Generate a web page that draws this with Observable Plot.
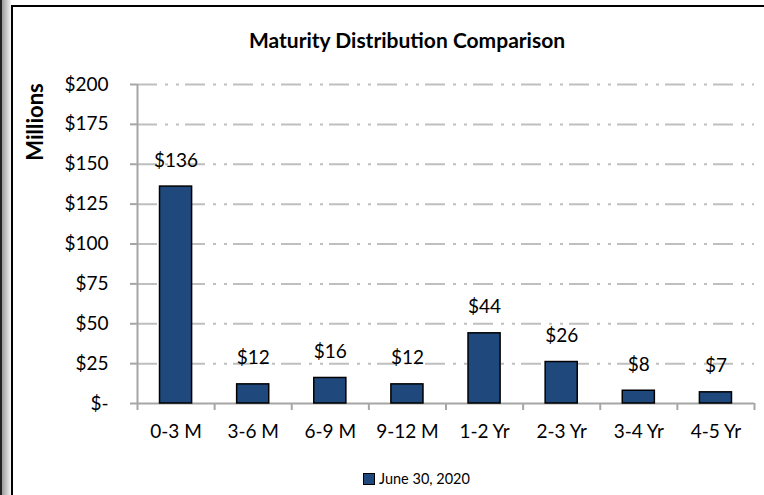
<!DOCTYPE html>
<html><head><meta charset="utf-8">
<script src="https://cdn.jsdelivr.net/npm/d3@7"></script>
<script src="https://cdn.jsdelivr.net/npm/@observablehq/plot@0.6"></script>
<style>
html,body{margin:0;padding:0;background:#fff;}
body{width:764px;height:495px;overflow:hidden;position:relative;font-family:Lato,"Open Sans",sans-serif;color:#000;}
#s1{position:absolute;left:0;top:0;width:2px;height:495px;background:#222;}
#s2{position:absolute;left:2px;top:0;width:9px;height:495px;background:linear-gradient(to right,#9a9a9a,#f4f4f4);}
#frame{position:absolute;left:11px;top:5px;width:753px;height:490px;border-left:2px solid #000;border-top:2px solid #000;box-sizing:border-box;}
#chart{position:absolute;left:0;top:0;}
#title{position:absolute;left:157px;width:500px;top:27px;text-align:center;font-weight:bold;font-size:21px;line-height:26px;white-space:nowrap;}
#ylabel{position:absolute;left:35px;top:122px;transform:translate(-50%,-50%) rotate(-90deg);font-weight:bold;font-size:22px;line-height:24px;white-space:nowrap;}
#legend{position:absolute;left:363px;top:469px;font-size:14.5px;line-height:20px;display:flex;align-items:center;white-space:nowrap;}
#legend .sw{display:inline-block;width:10px;height:10px;border:1px solid #000;margin-right:4px;}
</style></head><body>
<div id="s1"></div><div id="s2"></div><div id="frame"></div>
<div id="chart"></div>
<div id="title"></div>
<div id="ylabel"></div>
<div id="legend"><span class="sw"></span><span id="legtext"></span></div>
<script>
const categories = ["0-3 M","3-6 M","6-9 M","9-12 M","1-2 Yr","2-3 Yr","3-4 Yr","4-5 Yr"];
const values = [136,12,16,12,44,26,8,7];
const yTicks = [0,25,50,75,100,125,150,175,200];
const seriesName = "June 30, 2020";
const chartTitle = "Maturity Distribution Comparison";
const yLabel = "Millions";
const barColor = "#1f497d";

document.getElementById("title").textContent = chartTitle;
document.getElementById("ylabel").textContent = yLabel;
document.getElementById("legtext").textContent = seriesName;
document.querySelector("#legend .sw").style.background = barColor;

const data = categories.map((c,i)=>({cat:c, idx:i, value:values[i]}));
const barHalf = 0.208;
const axisGray = "#a6a6a6";

const plot = Plot.plot({
  width:764, height:460,
  marginTop:84, marginBottom:57, marginLeft:137, marginRight:10,
  style:{fontFamily:"Lato, 'Open Sans', sans-serif", fontSize:"19px", color:"#000", background:"transparent", overflow:"visible"},
  x:{domain:[0,categories.length], axis:null},
  y:{domain:[0,200], axis:null},
  marks:[
    Plot.gridY(yTicks.filter(t=>t>0), {stroke:"#bfbfbf", strokeOpacity:1, strokeWidth:2, strokeDasharray:"20,8,3,8,3,6"}),
    Plot.ruleY([0], {stroke:axisGray, strokeWidth:2}),
    Plot.ruleX([0], {y1:0, y2:200, stroke:axisGray, strokeWidth:2}),
    Plot.axisY({ticks:yTicks, tickSize:7, tickPadding:22, label:null, tickFormat:d=>d===0?"$-":"$"+d, stroke:axisGray, strokeWidth:2, fill:"#000"}),
    Plot.axisX({ticks:d3.range(categories.length+1), tickSize:7, label:null, tickFormat:()=>"", stroke:axisGray, strokeWidth:2}),
    Plot.axisX({ticks:data.map(d=>d.idx+0.5), tickSize:0, tickPadding:21, label:null, tickFormat:t=>categories[Math.round(t-0.5)], fill:"#000"}),
    Plot.rectY(data, {x1:d=>d.idx+0.5-barHalf, x2:d=>d.idx+0.5+barHalf, y:"value", fill:barColor, stroke:"#000", strokeWidth:1.5}),
    Plot.text(data, {x:d=>d.idx+0.5, y:"value", text:d=>"$"+d.value, dy:-26, fill:"#000"})
  ]
});
document.getElementById("chart").appendChild(plot);
</script>
</body></html>
